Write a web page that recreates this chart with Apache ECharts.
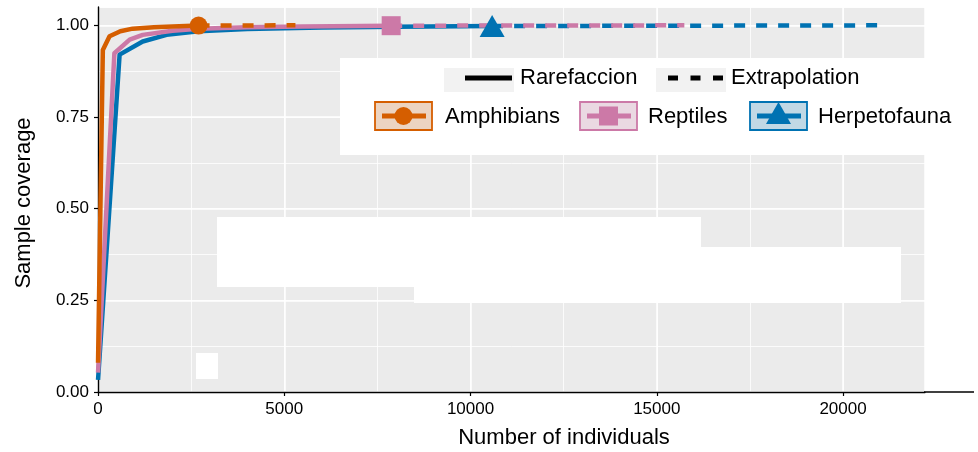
<!DOCTYPE html>
<html>
<head>
<meta charset="utf-8">
<script src="https://cdn.jsdelivr.net/npm/echarts@6/dist/echarts.min.js"></script>
<style>html,body{margin:0;padding:0;background:#fff}#c{width:978px;height:452px}</style>
</head>
<body>
<div id="c"></div>
<script>
// ---- data ----
const groups = ['Amphibians', 'Reptiles', 'Herpetofauna'];
const amphibiansRare = [[1,0.08],[130,0.933],[310,0.970],[600,0.984],[930,0.991],[1500,0.995],[2000,0.997],[2700,0.9995]];
const amphibiansExtra = [[2700,0.9995],[5300,1.0]];
const reptilesRare = [[1,0.053],[440,0.924],[850,0.961],[1200,0.974],[2000,0.985],[2700,0.991],[4000,0.995],[5500,0.997],[7870,0.999]];
const reptilesExtra = [[7870,0.999],[15740,1.0]];
const herpRare = [[1,0.033],[580,0.920],[1200,0.956],[1840,0.974],[2700,0.984],[4000,0.990],[6000,0.994],[8000,0.996],[10580,0.998]];
const herpExtra = [[10580,0.998],[21160,1.0]];
const observed = [[2700,0.9995],[7870,0.999],[10580,0.998]];
const xTicks = [0, 5000, 10000, 15000, 20000];
const yTicks = [0, 0.25, 0.5, 0.75, 1.0];

const colors = ['#D55E00', '#CC79A7', '#0072B2'];
const symbols = ['circle', 'rect', 'triangle'];
const symSizes = [18, 19, [25, 22]];
const FONT = 'Liberation Sans, Arial, sans-serif';

const chart = echarts.init(document.getElementById('c'), null, {renderer: 'canvas'});

function lineSeries(data, color, dashed, z) {
  return {
    type: 'line', data: data, xAxisIndex: 0, yAxisIndex: 0,
    showSymbol: false, symbol: 'none', animation: false, z: z,
    lineStyle: {color: color, width: 4.5, type: dashed ? [11, 11] : 'solid', cap: 'butt', join: 'round'}
  };
}

const series = [
  lineSeries(herpRare, colors[2], false, 2),
  lineSeries(herpExtra, colors[2], true, 2),
  lineSeries(reptilesRare, colors[1], false, 3),
  lineSeries(reptilesExtra, colors[1], true, 3),
  lineSeries(amphibiansRare, colors[0], false, 4),
  lineSeries(amphibiansExtra, colors[0], true, 4)
];
observed.forEach((p, i) => {
  series.push({
    type: 'scatter', data: [p], symbol: symbols[i], symbolSize: symSizes[i],
    itemStyle: {color: colors[i], opacity: 1}, z: 6, animation: false
  });
});

const axisLab = {color: '#000', fontSize: 17, fontFamily: FONT};
const gridLeft = 98, gridTop = 7;

// legend (ggplot-style keys)
const legend = [];
legend.push({type: 'rect', shape: {x: 340, y: 58, width: 600, height: 97}, style: {fill: '#fff'}, z: 10});
// row 1
legend.push({type: 'rect', shape: {x: 444, y: 68, width: 70, height: 24}, style: {fill: '#F2F2F2'}, z: 11});
legend.push({type: 'line', shape: {x1: 465, y1: 78, x2: 512, y2: 78}, style: {stroke: '#000', lineWidth: 5}, z: 12});
legend.push({type: 'text', x: 520, y: 78, style: {text: 'Rarefaccion', font: '22px ' + FONT, fill: '#000', align: 'left', verticalAlign: 'middle'}, z: 12});
legend.push({type: 'rect', shape: {x: 656, y: 68, width: 70, height: 24}, style: {fill: '#F2F2F2'}, z: 11});
legend.push({type: 'line', shape: {x1: 668, y1: 78, x2: 723, y2: 78}, style: {stroke: '#000', lineWidth: 5, lineDash: [10, 12.5]}, z: 12});
legend.push({type: 'text', x: 731, y: 78, style: {text: 'Extrapolation', font: '22px ' + FONT, fill: '#000', align: 'left', verticalAlign: 'middle'}, z: 12});
// row 2
const keyX = [375, 580, 750];
const textX = [445, 648, 818];
const fills = ['rgba(213,94,0,0.2)', 'rgba(204,121,167,0.2)', 'rgba(0,114,178,0.2)'];
groups.forEach((g, i) => {
  const x = keyX[i];
  legend.push({type: 'rect', shape: {x: x, y: 102, width: 57, height: 28}, style: {fill: '#F2F2F2'}, z: 11});
  legend.push({type: 'rect', shape: {x: x, y: 102, width: 57, height: 28}, style: {fill: fills[i], stroke: colors[i], lineWidth: 1.8}, z: 12});
  legend.push({type: 'line', shape: {x1: x + 7, y1: 116, x2: x + 51, y2: 116}, style: {stroke: colors[i], lineWidth: 5}, z: 13});
  const cx = x + 28.5;
  if (i === 0) legend.push({type: 'circle', shape: {cx: cx, cy: 116, r: 9}, style: {fill: colors[i]}, z: 13});
  if (i === 1) legend.push({type: 'rect', shape: {x: cx - 9.5, y: 106.5, width: 19, height: 19}, style: {fill: colors[i]}, z: 13});
  if (i === 2) legend.push({type: 'polygon', shape: {points: [[cx, 102], [cx - 12.5, 124], [cx + 12.5, 124]]}, style: {fill: colors[i]}, z: 13});
  legend.push({type: 'text', x: textX[i], y: 117, style: {text: g, font: '22px ' + FONT, fill: '#000', align: 'left', verticalAlign: 'middle'}, z: 13});
});

const graphic = [
  // white blocks present in the reference image
  {type: 'rect', shape: {x: 217, y: 217, width: 484, height: 70}, style: {fill: '#fff'}, z: 1},
  {type: 'rect', shape: {x: 414, y: 247, width: 487, height: 56}, style: {fill: '#fff'}, z: 1},
  {type: 'rect', shape: {x: 196, y: 353, width: 22, height: 26}, style: {fill: '#fff'}, z: 1},
  // axis line continuation
  {type: 'line', shape: {x1: 924, y1: 392, x2: 974, y2: 392}, style: {stroke: '#000', lineWidth: 1.4}, z: 5},
  // axis titles
  {type: 'text', x: 564, y: 438, style: {text: 'Number of individuals', font: '22px ' + FONT, fill: '#000', align: 'center', verticalAlign: 'middle'}, z: 5},
  {type: 'text', x: 24, y: 203, rotation: Math.PI / 2, style: {text: 'Sample coverage', font: '22px ' + FONT, fill: '#000', align: 'center', verticalAlign: 'middle'}, z: 5}
].concat(legend);

chart.setOption({
  animation: false,
  backgroundColor: '#fff',
  grid: {left: gridLeft, top: gridTop, right: 53, bottom: 60, show: true, backgroundColor: '#EBEBEB', borderWidth: 0},
  xAxis: [
    {type: 'value', min: 0, max: 22200, interval: 5000,
     axisLine: {show: true, onZero: false, lineStyle: {color: '#000', width: 1.4}},
     axisTick: {show: true, length: 4, lineStyle: {color: '#000', width: 1.2}},
     axisLabel: Object.assign({margin: 9, showMaxLabel: false, formatter: v => xTicks.includes(v) ? String(v) : ''}, axisLab),
     splitLine: {show: true, lineStyle: {color: '#fff', width: 1.5}}},
    {type: 'value', min: 0, max: 22200, interval: 2500, show: true,
     axisLine: {show: false}, axisTick: {show: false}, axisLabel: {show: false},
     splitLine: {show: true, lineStyle: {color: '#fff', width: 0.8}}}
  ],
  yAxis: [
    {type: 'value', min: 0, max: 1.05, interval: 0.25,
     axisLine: {show: true, onZero: false, lineStyle: {color: '#000', width: 1.4}},
     axisTick: {show: true, length: 4, lineStyle: {color: '#000', width: 1.2}},
     axisLabel: Object.assign({margin: 9, showMaxLabel: false, formatter: v => yTicks.some(t => Math.abs(t - v) < 1e-9) ? v.toFixed(2) : ''}, axisLab),
     splitLine: {show: true, lineStyle: {color: '#fff', width: 1.5}}},
    {type: 'value', min: 0, max: 1.05, interval: 0.125, show: true,
     axisLine: {show: false}, axisTick: {show: false}, axisLabel: {show: false},
     splitLine: {show: true, lineStyle: {color: '#fff', width: 0.8}}}
  ],
  series: series,
  graphic: graphic
});
</script>
</body>
</html>
